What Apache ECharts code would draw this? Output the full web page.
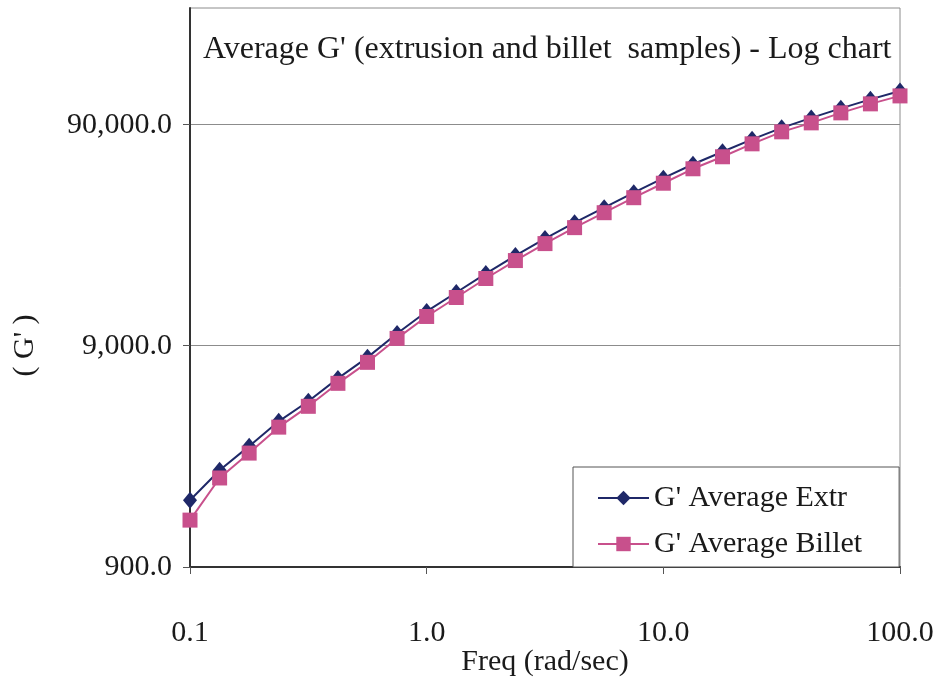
<!DOCTYPE html>
<html>
<head>
<meta charset="utf-8">
<script src="https://cdn.jsdelivr.net/npm/echarts@6/dist/echarts.min.js"></script>
<style>
  html, body { margin: 0; padding: 0; background: #fff; }
  #chart { width: 935px; height: 678px; }
</style>
</head>
<body>
<div id="chart"></div>
<script>
// frequency (rad/sec), 8 points per decade
const freq = [
  0.1, 0.1334, 0.1778, 0.2371, 0.3162, 0.4217, 0.5623, 0.7499,
  1.0, 1.334, 1.778, 2.371, 3.162, 4.217, 5.623, 7.499,
  10.0, 13.34, 17.78, 23.71, 31.62, 42.17, 56.23, 74.99, 100.0
]
// G' average, extrusion samples
const extr = [
  1800, 2460, 3160, 4090, 5040, 6390, 7950, 10190,
  12810, 15600, 18990, 22890, 27310, 32230, 37660, 44010,
  51160, 59150, 67320, 76640, 86350, 95760, 105750, 116100, 126700
]
// G' average, billet samples
const billet = [
  1465, 2270, 2940, 3850, 4780, 6070, 7550, 9680,
  12160, 14810, 18040, 21740, 25930, 30610, 35750, 41780,
  48560, 56430, 63930, 73130, 82840, 90930, 100890, 110790, 120330
]
const yTicks = [900, 9000, 90000]
const seriesNames = ["G' Average Extr", "G' Average Billet"]

const font = 'Liberation Serif'
const textColor = '#1a1a1a'

const chart = echarts.init(document.getElementById('chart'), null, { renderer: 'canvas' })

// label only the 900 / 9,000 / 90,000 ticks
const yLabel = (v) => {
  const hit = yTicks.find((t) => Math.abs(Math.log10(v / t)) < 0.01)
  return hit ? hit.toLocaleString('en-US') + '.0' : ''
}

const option = {
  animation: false,
  backgroundColor: '#fff',
  title: {
    text: "Average G' (extrusion and billet  samples) - Log chart",
    left: 198,
    top: 29,
    textStyle: { fontFamily: font, fontSize: 32, fontWeight: 'normal', color: textColor }
  },
  grid: {
    left: 190,
    right: 35,
    top: 8,
    bottom: 111,
    outerBoundsMode: 'none',
    show: true,
    borderColor: '#8c8c8c',
    borderWidth: 1,
    backgroundColor: '#fff'
  },
  legend: {
    orient: 'vertical',
    left: 573,
    top: 467,
    padding: [16, 37, 8, 24],
    itemGap: 16,
    itemWidth: 51,
    itemHeight: 18,
    borderColor: '#555',
    borderWidth: 1,
    backgroundColor: '#fff',
    textStyle: { fontFamily: font, fontSize: 30, lineHeight: 30, color: textColor },
    data: seriesNames
  },
  xAxis: {
    type: 'log',
    logBase: 10,
    min: 0.1,
    max: 100,
    name: 'Freq (rad/sec)',
    nameLocation: 'middle',
    nameGap: 80,
    nameMoveOverlap: false,
    nameTextStyle: { fontFamily: font, fontSize: 30, color: textColor },
    axisLine: { show: true, lineStyle: { color: '#333', width: 2 } },
    axisTick: { show: true, inside: false, length: 7, lineStyle: { color: '#555' } },
    splitLine: { show: false },
    minorTick: { show: false },
    axisLabel: {
      margin: 51,
      fontFamily: font,
      fontSize: 30,
      color: textColor,
      formatter: (v) => Number(v).toFixed(1)
    }
  },
  yAxis: {
    type: 'log',
    logBase: 10,
    min: 900,
    max: 300000,
    interval: 1,
    name: "( G' )",
    nameLocation: 'middle',
    nameGap: 150,
    nameRotate: 90,
    nameMoveOverlap: false,
    nameTextStyle: { fontFamily: font, fontSize: 30, color: textColor, padding: [0, 116, 0, 0] },
    axisLine: { show: true, lineStyle: { color: '#333', width: 2 } },
    axisTick: { show: true, inside: false, length: 7, customValues: yTicks, lineStyle: { color: '#555' } },
    splitLine: { show: true, lineStyle: { color: '#8c8c8c', width: 1 } },
    axisLabel: {
      margin: 18,
      fontFamily: font,
      fontSize: 30,
      color: textColor,
      formatter: yLabel
    }
  },
  series: [
    {
      name: seriesNames[0],
      type: 'line',
      data: freq.map((f, i) => [f, extr[i]]),
      symbol: 'diamond',
      symbolSize: [14, 17],
      lineStyle: { color: '#1f2868', width: 2 },
      itemStyle: { color: '#1f2868' },
      z: 2
    },
    {
      name: seriesNames[1],
      type: 'line',
      data: freq.map((f, i) => [f, billet[i]]),
      symbol: 'rect',
      symbolSize: 15,
      lineStyle: { color: '#c8508c', width: 2 },
      itemStyle: { color: '#c8508c' },
      z: 3
    }
  ]
}

chart.setOption(option)
</script>
</body>
</html>
